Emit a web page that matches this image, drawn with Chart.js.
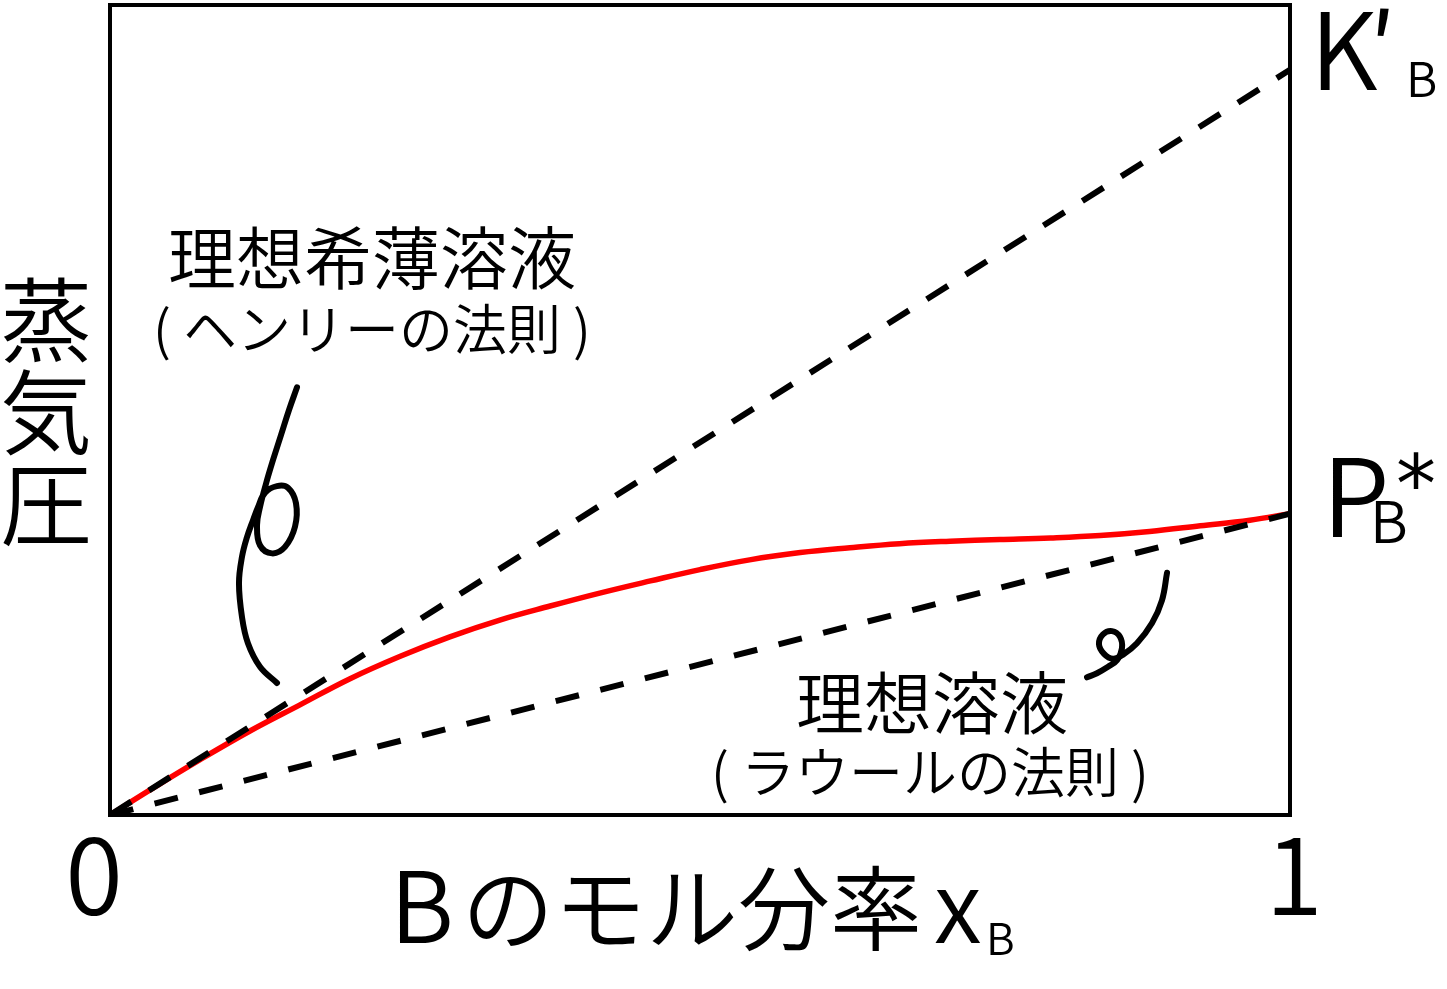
<!DOCTYPE html>
<html lang="ja">
<head>
<meta charset="utf-8">
<title>蒸気圧とBのモル分率</title>
<script src="https://cdn.jsdelivr.net/npm/chart.js@4.4.1/dist/chart.umd.min.js"></script>
<style>
  html, body { margin: 0; padding: 0; background: #fff; }
  canvas { display: block; }
</style>
</head>
<body>
<canvas id="chart" width="1447" height="989"></canvas>
<script>
// mole fraction of B (0..1), vapour pressure in units of the plot height
const henryX = [0, 1];
const henryY = [0, 0.92];          // K'_B at x_B = 1

const raoultX = [0, 1];
const raoultY = [0, 0.372];        // P_B* at x_B = 1

const realX = [0, 0.034, 0.076, 0.119, 0.161, 0.203, 0.246, 0.288, 0.331, 0.373, 0.415, 0.458, 0.500,
  0.542, 0.585, 0.627, 0.669, 0.712, 0.754, 0.797, 0.839, 0.881, 0.924, 0.966, 1.0];
const realY = [0, 0.031, 0.068, 0.104, 0.136, 0.168, 0.196, 0.220, 0.241, 0.258, 0.274, 0.289, 0.303,
  0.315, 0.324, 0.330, 0.335, 0.338, 0.340, 0.342, 0.345, 0.350, 0.357, 0.364, 0.372];

// hand-drawn pointer curves
const hookLeftX = [0.1585, 0.1517, 0.1449, 0.1381, 0.1322, 0.1271, 0.1246, 0.1271, 0.1373, 0.1483, 0.1568, 0.1576,
  0.1508, 0.1415, 0.1314, 0.1254, 0.1212, 0.1161, 0.1119, 0.1093, 0.1119, 0.1169, 0.1271, 0.1415];
const hookLeftY = [0.528, 0.500, 0.469, 0.438, 0.409, 0.380, 0.358, 0.333, 0.323, 0.331, 0.356, 0.385,
  0.404, 0.406, 0.398, 0.380, 0.364, 0.343, 0.319, 0.286, 0.244, 0.212, 0.183, 0.163];

const hookRightX = [0.8958, 0.8915, 0.8831, 0.8703, 0.8585, 0.8500, 0.8424, 0.8381, 0.8415, 0.8492, 0.8559, 0.8576,
  0.8534, 0.8458, 0.8364, 0.8280];
const hookRightY = [0.299, 0.265, 0.237, 0.212, 0.198, 0.193, 0.199, 0.211, 0.223, 0.227, 0.220, 0.206,
  0.191, 0.183, 0.175, 0.170];

const xTickLabels = ['0', '1'];

const pts = (xs, ys) => xs.map((x, i) => ({ x, y: ys[i] }));

const FONT = '"Noto Sans CJK JP", "Noto Sans", sans-serif';
const W = 350;

const labelsPlugin = {
  id: 'labels',
  afterDraw(chart) {
    const { ctx, chartArea: a, scales } = chart;
    ctx.save();

    // frame
    ctx.strokeStyle = '#000';
    ctx.lineWidth = 4;
    ctx.strokeRect(a.left, a.top, a.right - a.left, a.bottom - a.top);

    ctx.fillStyle = '#000';
    ctx.textAlign = 'center';
    ctx.textBaseline = 'middle';

    // annotations
    ctx.font = `${W} 68px ${FONT}`;
    ctx.fillText('理想希薄溶液', 372, 258);
    ctx.font = `${W} 54px ${FONT}`;
    ctx.fillText('( ヘンリーの法則 )', 372, 329);

    ctx.font = `${W} 68px ${FONT}`;
    ctx.fillText('理想溶液', 932, 703);
    ctx.font = `${W} 54px ${FONT}`;
    ctx.fillText('( ラウールの法則 )', 930, 772);

    // y title, stacked vertically
    ctx.font = `${W} 92px ${FONT}`;
    ['蒸', '気', '圧'].forEach((c, i) => ctx.fillText(c, 46, 320 + i * 92));

    // x ticks
    ctx.textBaseline = 'alphabetic';
    ctx.font = `${W} 105px ${FONT}`;
    xTickLabels.forEach((t, i) => {
      ctx.fillText(t, scales.x.getPixelForValue(i) - (i === 0 ? 16 : -4), 915);
    });

    // x title
    ctx.textAlign = 'left';
    ctx.font = `${W} 98px ${FONT}`;
    ctx.fillText('B', 390, 943);
    ctx.font = `${W} 92px ${FONT}`;
    ctx.fillText('のモル分率', 462, 943);
    ctx.font = `${W} 98px ${FONT}`;
    ctx.fillText('x', 934, 943);
    ctx.font = `${W} 44px ${FONT}`;
    ctx.fillText('B', 986, 955);

    // right-side labels
    ctx.font = `${W} 106px ${FONT}`;
    ctx.fillText('K', 1310, 90);
    ctx.fillText('′', 1368, 90);
    ctx.font = `${W} 48px ${FONT}`;
    ctx.fillText('B', 1406, 97);

    ctx.font = `${W} 108px ${FONT}`;
    ctx.fillText('P', 1322, 537);
    ctx.font = `${W} 58px ${FONT}`;
    ctx.fillText('B', 1370, 543);
    ctx.font = `80px "DejaVu Sans", sans-serif`;
    ctx.fillText('*', 1396, 512);

    ctx.restore();
  }
};

new Chart(document.getElementById('chart'), {
  type: 'line',
  data: {
    datasets: [
      {
        label: 'Henry',
        data: pts(henryX, henryY),
        borderColor: '#000',
        borderWidth: 6,
        borderDash: [25, 21],
        pointRadius: 0,
        tension: 0,
      },
      {
        label: 'Raoult',
        data: pts(raoultX, raoultY),
        borderColor: '#000',
        borderWidth: 6,
        borderDash: [24, 22],
        pointRadius: 0,
        tension: 0,
      },
      {
        label: 'real',
        data: pts(realX, realY),
        borderColor: '#ff0000',
        borderWidth: 5.5,
        pointRadius: 0,
        tension: 0.4,
      },
      {
        label: 'hook1',
        data: pts(hookLeftX, hookLeftY),
        borderColor: '#000',
        borderWidth: 6,
        borderCapStyle: 'round',
        pointRadius: 0,
        tension: 0.4,
      },
      {
        label: 'hook2',
        data: pts(hookRightX, hookRightY),
        borderColor: '#000',
        borderWidth: 6,
        borderCapStyle: 'round',
        pointRadius: 0,
        tension: 0.4,
      },
    ],
  },
  options: {
    responsive: false,
    devicePixelRatio: 1,
    animation: false,
    layout: { padding: { left: 110, right: 157, top: 5, bottom: 174 } },
    plugins: {
      legend: { display: false },
      tooltip: { enabled: false },
    },
    scales: {
      x: { type: 'linear', min: 0, max: 1, display: false },
      y: { type: 'linear', min: 0, max: 1, display: false },
    },
  },
  plugins: [labelsPlugin],
});
</script>
</body>
</html>
